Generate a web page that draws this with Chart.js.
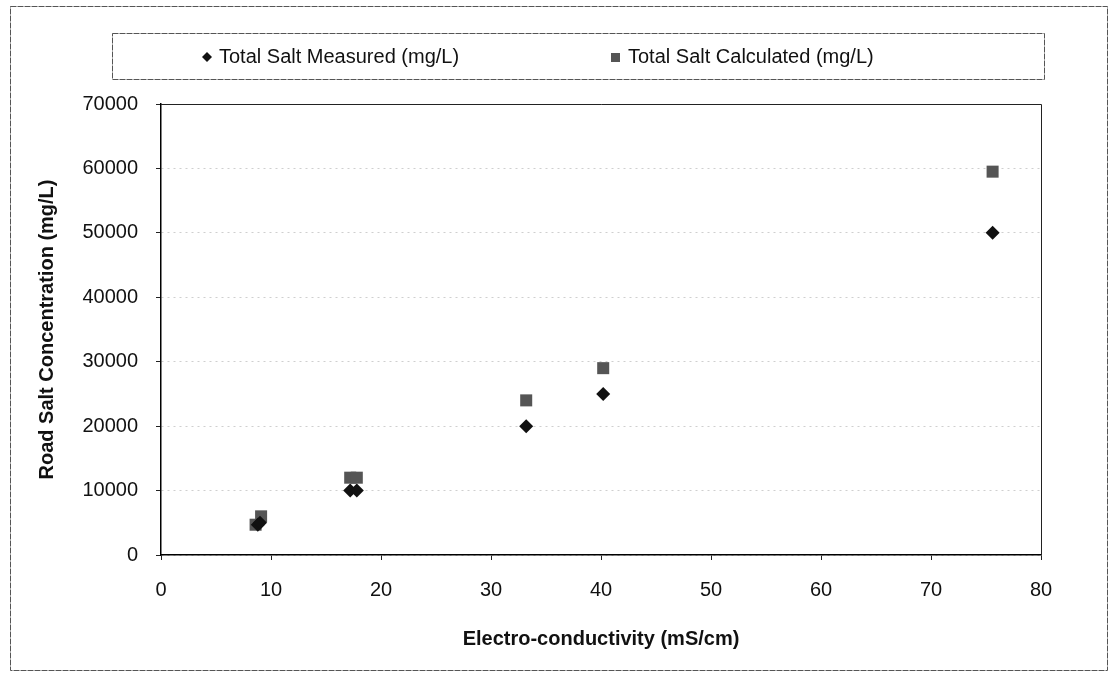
<!DOCTYPE html>
<html>
<head>
<meta charset="utf-8">
<script src="https://cdn.jsdelivr.net/npm/chart.js@4/dist/chart.umd.min.js"></script>
<style>
  html, body { margin: 0; padding: 0; background: #fff; }
  canvas { display: block; }
</style>
</head>
<body>
<canvas id="saltChart" width="1109" height="677"></canvas>
<script>
var seriesLabels = ["Total Salt Measured (mg/L)", "Total Salt Calculated (mg/L)"];

var measuredX = [8.8, 9.0, 17.2, 17.8, 33.2, 40.2, 75.6];
var measuredY = [4700, 5000, 10000, 10000, 20000, 25000, 50000];

var calculatedX = [8.6, 9.1, 17.2, 17.8, 33.2, 40.2, 75.6];
var calculatedY = [4700, 6000, 12000, 12000, 24000, 29000, 59500];

var xTicks = [0, 10, 20, 30, 40, 50, 60, 70, 80];
var yTicks = [0, 10000, 20000, 30000, 40000, 50000, 60000, 70000];

function toPoints(xs, ys) {
  return xs.map(function (x, i) { return { x: x, y: ys[i] }; });
}

var fontFamily = "'Liberation Sans', Arial, sans-serif";

// frame, legend box and plot border, drawn around the chart
const framePlugin = {
  id: 'frame',
  beforeDraw: function (chart) {
    const ctx = chart.ctx;
    ctx.save();
    ctx.fillStyle = '#fff';
    ctx.fillRect(0, 0, chart.width, chart.height);
    ctx.restore();
  },
  afterDraw: function (chart) {
    const ctx = chart.ctx;
    const a = chart.chartArea;
    ctx.save();
    ctx.lineWidth = 1;
    ctx.strokeStyle = '#555';
    ctx.setLineDash([6, 1]);
    ctx.strokeRect(10.5, 6.5, 1097, 664);
    ctx.strokeRect(112.5, 33.5, 932, 46);
    ctx.setLineDash([]);

    ctx.strokeStyle = '#222';
    ctx.beginPath();
    ctx.moveTo(a.left, a.top + 0.5);
    ctx.lineTo(a.right + 0.5, a.top + 0.5);
    ctx.lineTo(a.right + 0.5, a.bottom);
    ctx.stroke();

    // legend
    ctx.font = '20px ' + fontFamily;
    ctx.textBaseline = 'middle';
    ctx.fillStyle = '#111';
    var ly = 57;
    // diamond
    ctx.beginPath();
    ctx.moveTo(207, ly - 5);
    ctx.lineTo(212, ly);
    ctx.lineTo(207, ly + 5);
    ctx.lineTo(202, ly);
    ctx.closePath();
    ctx.fill();
    ctx.fillText(seriesLabels[0], 219, ly);
    // square
    ctx.fillStyle = '#555';
    ctx.fillRect(611, ly - 4, 9, 9);
    ctx.fillStyle = '#111';
    ctx.fillText(seriesLabels[1], 628, ly);
    ctx.restore();
  }
};

var ctx = document.getElementById("saltChart").getContext("2d");

var saltChart = new Chart(ctx, {
  type: 'scatter',
  data: {
    datasets: [{
      label: seriesLabels[0],
      data: toPoints(measuredX, measuredY),
      pointStyle: 'rectRot',
      pointRadius: 7,
      backgroundColor: '#111',
      borderColor: '#111',
      borderWidth: 0
    }, {
      label: seriesLabels[1],
      data: toPoints(calculatedX, calculatedY),
      pointStyle: 'rect',
      pointRadius: 8.5,
      backgroundColor: '#555',
      borderColor: '#555',
      borderWidth: 0
    }]
  },
  options: {
    responsive: false,
    devicePixelRatio: 1,
    animation: false,
    layout: {
      padding: { left: 10, top: 104, right: 68, bottom: 7 }
    },
    plugins: {
      legend: { display: false },
      tooltip: { enabled: false }
    },
    scales: {
      x: {
        type: 'linear',
        min: 0,
        max: 80,
        afterBuildTicks: function (axis) {
          axis.ticks = xTicks.map(function (v) { return { value: v }; });
        },
        afterFit: function (axis) { axis.height = 115; },
        grid: {
          drawOnChartArea: false,
          drawTicks: true,
          tickLength: 5,
          tickColor: '#222'
        },
        border: { display: true, color: '#000', width: 1.5 },
        ticks: {
          padding: 18,
          color: '#111',
          font: { family: fontFamily, size: 20 }
        },
        title: {
          display: true,
          text: 'Electro-conductivity (mS/cm)',
          color: '#111',
          padding: { top: 0, bottom: 19 },
          font: { family: fontFamily, size: 20, weight: 'bold' }
        }
      },
      y: {
        type: 'linear',
        min: 0,
        max: 70000,
        afterBuildTicks: function (axis) {
          axis.ticks = yTicks.map(function (v) { return { value: v }; });
        },
        afterFit: function (axis) { axis.width = 151; },
        grid: {
          color: '#cfcfcf',
          lineWidth: 1,
          drawTicks: true,
          tickLength: 5,
          tickColor: '#222'
        },
        border: { display: true, color: '#000', width: 1.5, dash: [2, 4] },
        ticks: {
          padding: 18,
          color: '#111',
          font: { family: fontFamily, size: 20 },
          callback: function (v) { return String(v); }
        },
        title: {
          display: true,
          text: 'Road Salt Concentration (mg/L)',
          color: '#111',
          padding: { top: 25, bottom: 0 },
          font: { family: fontFamily, size: 20, weight: 'bold' }
        }
      }
    }
  },
  plugins: [framePlugin]
});
</script>
</body>
</html>
